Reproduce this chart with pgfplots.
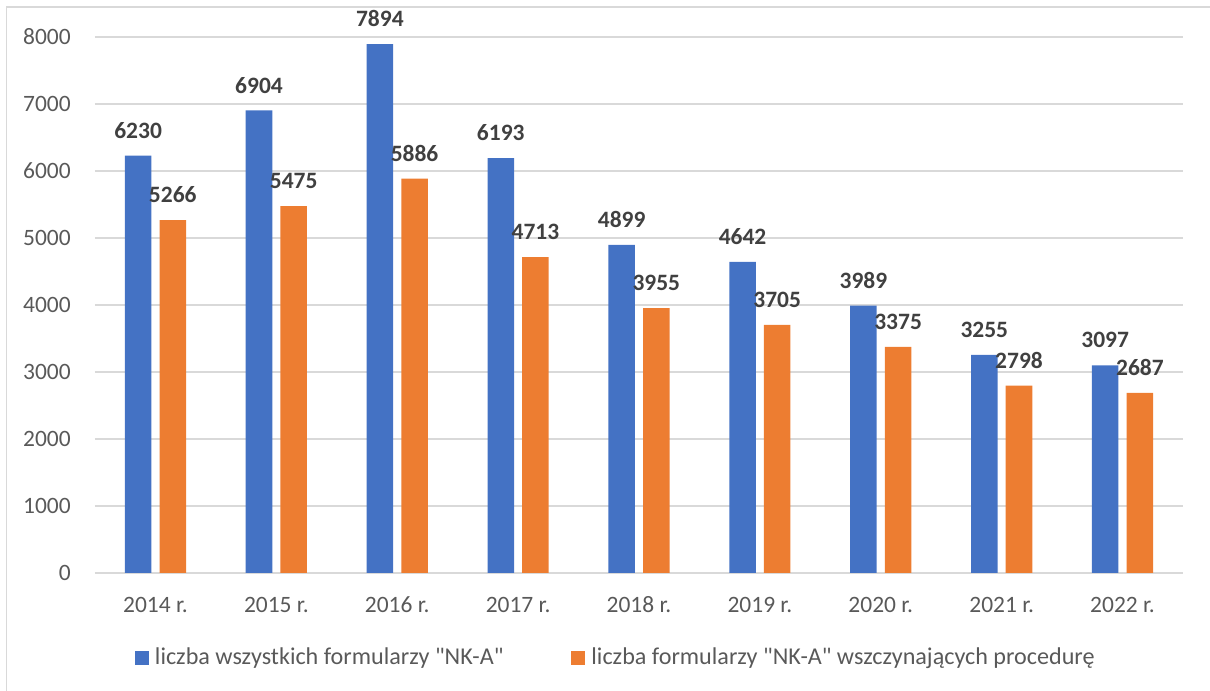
\documentclass[border=0pt]{standalone}
\usepackage{fontspec}
\setmainfont{Carlito}
\usepackage{pgfplots}
\pgfplotsset{compat=1.18}
\definecolor{cblue}{HTML}{4472C4}
\definecolor{corange}{HTML}{ED7D31}
\definecolor{cgrid}{HTML}{D9D9D9}
\definecolor{ctick}{HTML}{595959}
\definecolor{clabel}{HTML}{404040}
\newcommand\fs{\fontsize{17.6}{21}\selectfont}
\newcommand\fl{\fontsize{18.1}{22}\selectfont}
\begin{document}
\begin{tikzpicture}
\useasboundingbox (-71.25pt,-88.5pt) rectangle (836.25pt,429.75pt);
\draw[cgrid, line width=1pt] (-66.2pt,-100pt) -- (-66.2pt,424.5pt) -- (860pt,424.5pt);
\begin{axis}[
  scale only axis, width=816pt, height=402pt,
  ymin=0, ymax=8000, ytick={0,1000,...,8000},
  xmin=-0.5, xmax=8.5, xtick={0,...,8},
  xticklabels={2014 r.,2015 r.,2016 r.,2017 r.,2018 r.,2019 r.,2020 r.,2021 r.,2022 r.},
  /pgf/number format/1000 sep={},
  /pgf/number format/assume math mode=true,
  separate axis lines,
  x axis line style={cgrid, line width=1pt},
  y axis line style={draw=none},
  major tick length=0pt,
  tick style={draw=none},
  ymajorgrids, grid style={cgrid, line width=1pt},
  yticklabel style={font=\fs, text=ctick, anchor=east, inner sep=0pt, xshift=-18pt},
  xticklabel style={font=\fs, text=ctick, anchor=center, inner sep=0pt, yshift=-24pt},
  ybar, bar width=19.9pt,
  nodes near coords,
  every node near coord/.append style={font=\fs\bfseries, text=clabel, anchor=center, inner sep=0pt, yshift=19pt},
  legend columns=2,
  legend cell align=left,
  legend image code/.code={\fill[#1] (0pt,-5.25pt) rectangle (10.5pt,5.25pt);},
  legend style={draw=none, fill=none, font=\fl, text=ctick, at={(0.4805,-0.1577)}, anchor=center,
    nodes={inner xsep=4.5pt},
    /tikz/every even column/.append style={column sep=46.5pt}},
]
\addplot[fill=cblue, draw=none, bar shift=-13pt] coordinates {
 (0,6230) (1,6904) (2,7894) (3,6193) (4,4899) (5,4642) (6,3989) (7,3255) (8,3097)};
\addplot[fill=corange, draw=none, bar shift=13pt] coordinates {
 (0,5266) (1,5475) (2,5886) (3,4713) (4,3955) (5,3705) (6,3375) (7,2798) (8,2687)};
\legend{liczba wszystkich formularzy \textquotedbl NK-A\textquotedbl, liczba formularzy \textquotedbl NK-A\textquotedbl\ wszczynających procedurę}
\end{axis}
\end{tikzpicture}
\end{document}
